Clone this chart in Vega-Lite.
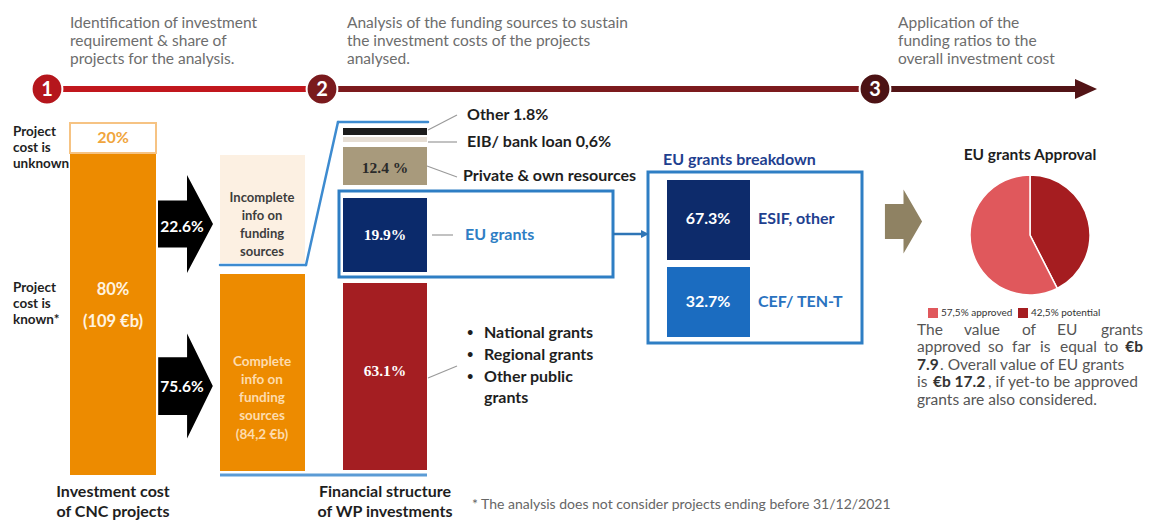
{
  "$schema": "https://vega.github.io/schema/vega-lite/v6.json",
  "width": 1157,
  "height": 521,
  "autosize": {"type": "fit", "contains": "padding"},
  "padding": 0,
  "background": "white",
  "config": {"view": {"stroke": null}, "font": "Lato", "text": {"font": "Lato", "baseline": "middle"}},
  "datasets": {
    "rects": [
      {"part": "cnc_known", "share": 80, "x": 70, "x2": 156, "y": 153, "y2": 475},
      {"part": "incomplete", "share": 22.6, "x": 220, "x2": 305, "y": 155, "y2": 263},
      {"part": "complete", "share": 75.6, "x": 220, "x2": 305, "y": 274, "y2": 471},
      {"part": "other", "share": 1.8, "x": 343, "x2": 427, "y": 128, "y2": 135},
      {"part": "eib", "share": 0.6, "x": 343, "x2": 427, "y": 137, "y2": 142},
      {"part": "private", "share": 12.4, "x": 343, "x2": 427, "y": 147, "y2": 185},
      {"part": "eu", "share": 19.9, "x": 343, "x2": 427, "y": 198, "y2": 272},
      {"part": "public", "share": 63.1, "x": 343, "x2": 427, "y": 283, "y2": 470},
      {"part": "esif", "share": 67.3, "x": 667, "x2": 750, "y": 180, "y2": 260},
      {"part": "cef", "share": 32.7, "x": 667, "x2": 750, "y": 267, "y2": 337}
    ],
    "boxes": [
      {"box": "unknown20", "x": 70, "x2": 156, "y": 123, "y2": 153},
      {"box": "eu_outline", "x": 339, "x2": 613, "y": 191, "y2": 277},
      {"box": "breakdown", "x": 648, "x2": 862, "y": 172, "y2": 343}
    ],
    "lines": [
      {"kind": "t1", "x": 47, "y": 89, "x2": 322, "y2": 89},
      {"kind": "t2", "x": 322, "y": 89, "x2": 875, "y2": 89},
      {"kind": "t3", "x": 875, "y": 89, "x2": 1080, "y2": 89},
      {"kind": "blue", "x": 220, "y": 265, "x2": 306, "y2": 265},
      {"kind": "blue", "x": 306, "y": 265, "x2": 338, "y2": 122},
      {"kind": "blue", "x": 338, "y": 122, "x2": 428, "y2": 122},
      {"kind": "bluebottom", "x": 220, "y": 475, "x2": 427, "y2": 475},
      {"kind": "bluearrow", "x": 613, "y": 234, "x2": 642, "y2": 234},
      {"kind": "conn", "x": 428, "y": 130, "x2": 457, "y2": 115},
      {"kind": "conn", "x": 428, "y": 142, "x2": 457, "y2": 142},
      {"kind": "conn", "x": 427, "y": 166, "x2": 457, "y2": 177},
      {"kind": "conn", "x": 432, "y": 235, "x2": 453, "y2": 235},
      {"kind": "conn", "x": 428, "y": 378, "x2": 457, "y2": 366}
    ],
    "markers": [
      {"kind": "c1", "x": 47, "y": 89},
      {"kind": "c2", "x": 322, "y": 89},
      {"kind": "c3", "x": 875, "y": 89},
      {"kind": "thead", "x": 1086, "y": 89},
      {"kind": "bhead", "x": 645, "y": 234},
      {"kind": "arrow1", "x": 185.5, "y": 224},
      {"kind": "arrow2", "x": 185.5, "y": 386},
      {"kind": "tan", "x": 903.5, "y": 221.5},
      {"kind": "lg_app", "x": 933, "y": 313},
      {"kind": "lg_pot", "x": 1023, "y": 313}
    ],
    "pie": [
      {"slice": "potential", "share": 42.5, "x": 1030, "y": 235},
      {"slice": "approved", "share": 57.5, "x": 1030, "y": 235}
    ],
    "texts": [
      {"role": "header", "label": "Identification of investment", "x": 70, "y": 23},
      {"role": "header", "label": "requirement & share of", "x": 70, "y": 41},
      {"role": "header", "label": "projects for the analysis.", "x": 70, "y": 59},
      {"role": "header", "label": "Analysis of the funding sources to sustain", "x": 347, "y": 23},
      {"role": "header", "label": "the investment costs of the projects", "x": 347, "y": 41},
      {"role": "header", "label": "analysed.", "x": 347, "y": 59},
      {"role": "header", "label": "Application of the", "x": 898, "y": 23},
      {"role": "header", "label": "funding ratios to the", "x": 898, "y": 41},
      {"role": "header", "label": "overall investment cost", "x": 898, "y": 59},
      {"role": "num", "label": "1", "x": 47, "y": 90},
      {"role": "num", "label": "2", "x": 322, "y": 90},
      {"role": "num", "label": "3", "x": 875, "y": 90},
      {"role": "side", "label": "Project", "x": 13, "y": 132},
      {"role": "side", "label": "cost is", "x": 13, "y": 148},
      {"role": "side", "label": "unknown", "x": 13, "y": 164},
      {"role": "side", "label": "Project", "x": 13, "y": 288},
      {"role": "side", "label": "cost is", "x": 13, "y": 304},
      {"role": "side", "label": "known*", "x": 13, "y": 320},
      {"role": "pct20", "label": "20%", "x": 113, "y": 138},
      {"role": "whitebig", "label": "80%", "x": 113, "y": 290},
      {"role": "whitebig", "label": "(109 €b)", "x": 113, "y": 322},
      {"role": "arrowpct", "label": "22.6%", "x": 182, "y": 227},
      {"role": "arrowpct", "label": "75.6%", "x": 182, "y": 387},
      {"role": "incompl", "label": "Incomplete", "x": 262, "y": 198},
      {"role": "incompl", "label": "info on", "x": 262, "y": 216},
      {"role": "incompl", "label": "funding", "x": 262, "y": 234},
      {"role": "incompl", "label": "sources", "x": 262, "y": 252},
      {"role": "compl", "label": "Complete", "x": 262, "y": 362},
      {"role": "compl", "label": "info on", "x": 262, "y": 380},
      {"role": "compl", "label": "funding", "x": 262, "y": 398},
      {"role": "compl", "label": "sources", "x": 262, "y": 416},
      {"role": "compl", "label": "(84,2 €b)", "x": 262, "y": 435},
      {"role": "bardark", "label": "12.4 %", "x": 385, "y": 168},
      {"role": "barserif", "label": "19.9%", "x": 385, "y": 235},
      {"role": "barserif", "label": "63.1%", "x": 385, "y": 371},
      {"role": "barwhite", "label": "67.3%", "x": 708, "y": 219},
      {"role": "barwhite", "label": "32.7%", "x": 708, "y": 302},
      {"role": "label", "label": "Other 1.8%", "x": 467, "y": 115},
      {"role": "label", "label": "EIB/ bank loan 0,6%", "x": 467, "y": 142},
      {"role": "label", "label": "Private & own resources", "x": 463, "y": 176},
      {"role": "bullet", "label": "•", "x": 467, "y": 333},
      {"role": "bullet", "label": "•", "x": 467, "y": 355},
      {"role": "bullet", "label": "•", "x": 467, "y": 377},
      {"role": "label", "label": "National grants", "x": 484, "y": 333},
      {"role": "label", "label": "Regional grants", "x": 484, "y": 355},
      {"role": "label", "label": "Other public", "x": 484, "y": 377},
      {"role": "label", "label": "grants", "x": 484, "y": 398},
      {"role": "eulabel", "label": "EU grants", "x": 465, "y": 235},
      {"role": "bdtitle", "label": "EU grants breakdown", "x": 663, "y": 160},
      {"role": "esif", "label": "ESIF, other", "x": 758, "y": 219},
      {"role": "cef", "label": "CEF/ TEN-T", "x": 758, "y": 302},
      {"role": "pietitle", "label": "EU grants Approval", "x": 1030, "y": 155},
      {"role": "legend", "label": "57,5% approved", "x": 941, "y": 313},
      {"role": "legend", "label": "42,5% potential", "x": 1031, "y": 313},
      {"role": "para", "label": "The", "x": 917, "y": 330},
      {"role": "para", "label": "value", "x": 964, "y": 330},
      {"role": "para", "label": "of", "x": 1022, "y": 330},
      {"role": "para", "label": "EU", "x": 1057, "y": 330},
      {"role": "para_r", "label": "grants", "x": 1143, "y": 330},
      {"role": "para", "label": "approved", "x": 917, "y": 347},
      {"role": "para", "label": "so", "x": 988, "y": 347},
      {"role": "para", "label": "far", "x": 1012, "y": 347},
      {"role": "para", "label": "is", "x": 1040, "y": 347},
      {"role": "para", "label": "equal", "x": 1060, "y": 347},
      {"role": "para", "label": "to", "x": 1104, "y": 347},
      {"role": "para_br", "label": "€b", "x": 1143, "y": 347},
      {"role": "para_b", "label": "7.9", "x": 917, "y": 365},
      {"role": "para", "label": ". Overall value of EU grants", "x": 940, "y": 365},
      {"role": "para", "label": "is", "x": 917, "y": 382},
      {"role": "para_b", "label": "€b 17.2", "x": 933, "y": 382},
      {"role": "para", "label": ", if yet-to be approved", "x": 988, "y": 382},
      {"role": "para", "label": "grants are also considered.", "x": 917, "y": 400},
      {"role": "bottom", "label": "Investment cost", "x": 113, "y": 492},
      {"role": "bottom", "label": "of CNC projects", "x": 113, "y": 512},
      {"role": "bottom", "label": "Financial structure", "x": 385, "y": 492},
      {"role": "bottom", "label": "of WP investments", "x": 385, "y": 512},
      {"role": "foot", "label": "* The analysis does not consider projects ending before 31/12/2021", "x": 472, "y": 505}
    ]
  },
  "encoding": {
    "x": {"field": "x", "type": "quantitative", "scale": {"domain": [0, 1157], "nice": false, "zero": false}, "axis": null},
    "y": {"field": "y", "type": "quantitative", "scale": {"domain": [0, 521], "nice": false, "zero": false, "reverse": true}, "axis": null}
  },
  "layer": [
    {
      "data": {"name": "rects"},
      "mark": {"type": "rect"},
      "encoding": {
        "x2": {"field": "x2"},
        "y2": {"field": "y2"},
        "color": {
          "field": "part", "type": "nominal", "legend": null,
          "scale": {
            "domain": ["cnc_known", "incomplete", "complete", "other", "eib", "private", "eu", "public", "esif", "cef"],
            "range": ["#ED8B00", "#fcf0e2", "#ED8B00", "#1c1c1c", "#e6ded4", "#a89a7c", "#0b2a6b", "#a41e22", "#0d2b6b", "#1b6cc0"]
          }
        }
      }
    },
    {
      "data": {"name": "boxes"},
      "transform": [{"filter": "datum.box === 'unknown20'"}],
      "mark": {"type": "rect", "fill": "white", "stroke": "#f6c383", "strokeWidth": 2},
      "encoding": {"x2": {"field": "x2"}, "y2": {"field": "y2"}}
    },
    {
      "data": {"name": "boxes"},
      "transform": [{"filter": "datum.box !== 'unknown20'"}],
      "mark": {"type": "rect", "fill": null, "filled": false, "stroke": "#2e7ec4", "strokeWidth": 3},
      "encoding": {"x2": {"field": "x2"}, "y2": {"field": "y2"}}
    },
    {
      "data": {"name": "lines"},
      "transform": [{"filter": "datum.kind === 't1'"}],
      "mark": {"type": "rule", "color": "#c1171d", "strokeWidth": 6},
      "encoding": {"x2": {"field": "x2"}, "y2": {"field": "y2"}}
    },
    {
      "data": {"name": "lines"},
      "transform": [{"filter": "datum.kind === 't2'"}],
      "mark": {"type": "rule", "color": "#7c1a1d", "strokeWidth": 6},
      "encoding": {"x2": {"field": "x2"}, "y2": {"field": "y2"}}
    },
    {
      "data": {"name": "lines"},
      "transform": [{"filter": "datum.kind === 't3'"}],
      "mark": {"type": "rule", "color": "#521416", "strokeWidth": 6},
      "encoding": {"x2": {"field": "x2"}, "y2": {"field": "y2"}}
    },
    {
      "data": {"name": "lines"},
      "transform": [{"filter": "datum.kind === 'blue'"}],
      "mark": {"type": "rule", "color": "#3d8bd0", "strokeWidth": 2.5, "strokeCap": "round"},
      "encoding": {"x2": {"field": "x2"}, "y2": {"field": "y2"}}
    },
    {
      "data": {"name": "lines"},
      "transform": [{"filter": "datum.kind === 'bluebottom'"}],
      "mark": {"type": "rule", "color": "#5b9bd5", "strokeWidth": 3},
      "encoding": {"x2": {"field": "x2"}, "y2": {"field": "y2"}}
    },
    {
      "data": {"name": "lines"},
      "transform": [{"filter": "datum.kind === 'bluearrow'"}],
      "mark": {"type": "rule", "color": "#2e75b6", "strokeWidth": 2.5},
      "encoding": {"x2": {"field": "x2"}, "y2": {"field": "y2"}}
    },
    {
      "data": {"name": "lines"},
      "transform": [{"filter": "datum.kind === 'conn'"}],
      "mark": {"type": "rule", "color": "#9a9a9a", "strokeWidth": 1.2},
      "encoding": {"x2": {"field": "x2"}, "y2": {"field": "y2"}}
    },
    {
      "data": {"name": "markers"},
      "transform": [{"filter": "datum.kind === 'c1'"}],
      "mark": {"type": "point", "shape": "circle", "filled": true, "size": 950, "fill": "#b5161c", "stroke": "white", "strokeWidth": 2, "opacity": 1}
    },
    {
      "data": {"name": "markers"},
      "transform": [{"filter": "datum.kind === 'c2'"}],
      "mark": {"type": "point", "shape": "circle", "filled": true, "size": 950, "fill": "#7a1a1d", "stroke": "white", "strokeWidth": 2, "opacity": 1}
    },
    {
      "data": {"name": "markers"},
      "transform": [{"filter": "datum.kind === 'c3'"}],
      "mark": {"type": "point", "shape": "circle", "filled": true, "size": 950, "fill": "#4c1214", "stroke": "white", "strokeWidth": 2, "opacity": 1}
    },
    {
      "data": {"name": "markers"},
      "transform": [{"filter": "datum.kind === 'thead'"}],
      "mark": {"type": "point", "shape": "M-1,-0.9L1,0L-1,0.9Z", "filled": true, "size": 484, "fill": "#521416", "opacity": 1}
    },
    {
      "data": {"name": "markers"},
      "transform": [{"filter": "datum.kind === 'bhead'"}],
      "mark": {"type": "point", "shape": "M-1,-1L1,0L-1,1Z", "filled": true, "size": 64, "fill": "#2e75b6", "opacity": 1}
    },
    {
      "data": {"name": "markers"},
      "transform": [{"filter": "datum.kind === 'arrow1'"}],
      "mark": {"type": "point", "shape": "M-0.55,-0.47L0.03,-0.47L0.03,-0.98L0.55,0L0.03,0.98L0.03,0.47L-0.55,0.47Z", "filled": true, "size": 10000, "fill": "#000000", "opacity": 1}
    },
    {
      "data": {"name": "markers"},
      "transform": [{"filter": "datum.kind === 'arrow2'"}],
      "mark": {"type": "point", "shape": "M-0.52,-0.55L0.03,-0.55L0.03,-1L0.52,0L0.03,1L0.03,0.55L-0.52,0.55Z", "filled": true, "size": 11025, "fill": "#000000", "opacity": 1}
    },
    {
      "data": {"name": "markers"},
      "transform": [{"filter": "datum.kind === 'tan'"}],
      "mark": {"type": "point", "shape": "M-0.58,-0.55L0,-0.55L0,-1L0.58,0L0,1L0,0.55L-0.58,0.55Z", "filled": true, "size": 4096, "fill": "#8f8263", "opacity": 1}
    },
    {
      "data": {"name": "markers"},
      "transform": [{"filter": "datum.kind === 'lg_app'"}],
      "mark": {"type": "point", "shape": "square", "filled": true, "size": 100, "fill": "#e0585c", "opacity": 1}
    },
    {
      "data": {"name": "markers"},
      "transform": [{"filter": "datum.kind === 'lg_pot'"}],
      "mark": {"type": "point", "shape": "square", "filled": true, "size": 100, "fill": "#a51d20", "opacity": 1}
    },
    {
      "data": {"name": "pie"},
      "mark": {"type": "arc", "radius": 60, "stroke": "white", "strokeWidth": 1.5},
      "encoding": {
        "x": {"field": "x", "type": "quantitative"},
        "y": {"field": "y", "type": "quantitative"},
        "theta": {"field": "share", "type": "quantitative", "stack": true},
        "order": {"field": "slice", "sort": "descending"},
        "color": {"field": "slice", "type": "nominal", "legend": null, "scale": {"domain": ["approved", "potential"], "range": ["#e0585c", "#a51d20"]}}
      }
    },
    {
      "data": {"name": "texts"},
      "transform": [{"filter": "datum.role === 'header'"}],
      "mark": {"type": "text", "align": "left", "fontSize": 15.5, "color": "#6d6d6d"},
      "encoding": {"text": {"field": "label"}}
    },
    {
      "data": {"name": "texts"},
      "transform": [{"filter": "datum.role === 'num'"}],
      "mark": {"type": "text", "align": "center", "fontSize": 20, "fontWeight": "bold", "color": "white"},
      "encoding": {"text": {"field": "label"}}
    },
    {
      "data": {"name": "texts"},
      "transform": [{"filter": "datum.role === 'side'"}],
      "mark": {"type": "text", "align": "left", "fontSize": 13.5, "fontWeight": "bold", "color": "#1f1f1f"},
      "encoding": {"text": {"field": "label"}}
    },
    {
      "data": {"name": "texts"},
      "transform": [{"filter": "datum.role === 'pct20'"}],
      "mark": {"type": "text", "align": "center", "fontSize": 16, "fontWeight": "bold", "color": "#f0a53c"},
      "encoding": {"text": {"field": "label"}}
    },
    {
      "data": {"name": "texts"},
      "transform": [{"filter": "datum.role === 'whitebig'"}],
      "mark": {"type": "text", "align": "center", "fontSize": 16.5, "fontWeight": "bold", "color": "#fff3e0"},
      "encoding": {"text": {"field": "label"}}
    },
    {
      "data": {"name": "texts"},
      "transform": [{"filter": "datum.role === 'arrowpct'"}],
      "mark": {"type": "text", "align": "center", "fontSize": 15.5, "fontWeight": "bold", "color": "white"},
      "encoding": {"text": {"field": "label"}}
    },
    {
      "data": {"name": "texts"},
      "transform": [{"filter": "datum.role === 'incompl'"}],
      "mark": {"type": "text", "align": "center", "fontSize": 13, "fontWeight": "bold", "color": "#3d3d3d"},
      "encoding": {"text": {"field": "label"}}
    },
    {
      "data": {"name": "texts"},
      "transform": [{"filter": "datum.role === 'compl'"}],
      "mark": {"type": "text", "align": "center", "fontSize": 13.5, "fontWeight": "bold", "color": "#fddcae"},
      "encoding": {"text": {"field": "label"}}
    },
    {
      "data": {"name": "texts"},
      "transform": [{"filter": "datum.role === 'bardark'"}],
      "mark": {"type": "text", "align": "center", "fontSize": 15.5, "fontWeight": "bold", "color": "#2a2a2a", "font": "Liberation Serif"},
      "encoding": {"text": {"field": "label"}}
    },
    {
      "data": {"name": "texts"},
      "transform": [{"filter": "datum.role === 'barserif'"}],
      "mark": {"type": "text", "align": "center", "fontSize": 15.5, "fontWeight": "bold", "color": "white", "font": "Liberation Serif"},
      "encoding": {"text": {"field": "label"}}
    },
    {
      "data": {"name": "texts"},
      "transform": [{"filter": "datum.role === 'barwhite'"}],
      "mark": {"type": "text", "align": "center", "fontSize": 16, "fontWeight": "bold", "color": "white"},
      "encoding": {"text": {"field": "label"}}
    },
    {
      "data": {"name": "texts"},
      "transform": [{"filter": "datum.role === 'label'"}],
      "mark": {"type": "text", "align": "left", "fontSize": 16, "fontWeight": "bold", "color": "#1e1e1e"},
      "encoding": {"text": {"field": "label"}}
    },
    {
      "data": {"name": "texts"},
      "transform": [{"filter": "datum.role === 'bullet'"}],
      "mark": {"type": "text", "align": "left", "fontSize": 11, "fontWeight": "bold", "color": "#1e1e1e"},
      "encoding": {"text": {"field": "label"}}
    },
    {
      "data": {"name": "texts"},
      "transform": [{"filter": "datum.role === 'eulabel'"}],
      "mark": {"type": "text", "align": "left", "fontSize": 16, "fontWeight": "bold", "color": "#2e7ec4"},
      "encoding": {"text": {"field": "label"}}
    },
    {
      "data": {"name": "texts"},
      "transform": [{"filter": "datum.role === 'bdtitle'"}],
      "mark": {"type": "text", "align": "left", "fontSize": 16, "fontWeight": "bold", "color": "#1f3f8f"},
      "encoding": {"text": {"field": "label"}}
    },
    {
      "data": {"name": "texts"},
      "transform": [{"filter": "datum.role === 'esif'"}],
      "mark": {"type": "text", "align": "left", "fontSize": 16, "fontWeight": "bold", "color": "#1f3f8f"},
      "encoding": {"text": {"field": "label"}}
    },
    {
      "data": {"name": "texts"},
      "transform": [{"filter": "datum.role === 'cef'"}],
      "mark": {"type": "text", "align": "left", "fontSize": 16, "fontWeight": "bold", "color": "#2a72c0"},
      "encoding": {"text": {"field": "label"}}
    },
    {
      "data": {"name": "texts"},
      "transform": [{"filter": "datum.role === 'pietitle'"}],
      "mark": {"type": "text", "align": "center", "fontSize": 15.5, "fontWeight": "bold", "color": "#1e1e1e"},
      "encoding": {"text": {"field": "label"}}
    },
    {
      "data": {"name": "texts"},
      "transform": [{"filter": "datum.role === 'legend'"}],
      "mark": {"type": "text", "align": "left", "fontSize": 10, "color": "#333333"},
      "encoding": {"text": {"field": "label"}}
    },
    {
      "data": {"name": "texts"},
      "transform": [{"filter": "datum.role === 'para'"}],
      "mark": {"type": "text", "align": "left", "fontSize": 15.5, "color": "#555555"},
      "encoding": {"text": {"field": "label"}}
    },
    {
      "data": {"name": "texts"},
      "transform": [{"filter": "datum.role === 'para_r'"}],
      "mark": {"type": "text", "align": "right", "fontSize": 15.5, "color": "#555555"},
      "encoding": {"text": {"field": "label"}}
    },
    {
      "data": {"name": "texts"},
      "transform": [{"filter": "datum.role === 'para_b'"}],
      "mark": {"type": "text", "align": "left", "fontSize": 15.5, "fontWeight": "bold", "color": "#333333"},
      "encoding": {"text": {"field": "label"}}
    },
    {
      "data": {"name": "texts"},
      "transform": [{"filter": "datum.role === 'para_br'"}],
      "mark": {"type": "text", "align": "right", "fontSize": 15.5, "fontWeight": "bold", "color": "#333333"},
      "encoding": {"text": {"field": "label"}}
    },
    {
      "data": {"name": "texts"},
      "transform": [{"filter": "datum.role === 'bottom'"}],
      "mark": {"type": "text", "align": "center", "fontSize": 16, "fontWeight": "bold", "color": "#1e1e1e"},
      "encoding": {"text": {"field": "label"}}
    },
    {
      "data": {"name": "texts"},
      "transform": [{"filter": "datum.role === 'foot'"}],
      "mark": {"type": "text", "align": "left", "fontSize": 14, "color": "#666666"},
      "encoding": {"text": {"field": "label"}}
    }
  ],
  "resolve": {"scale": {"color": "independent"}}
}
